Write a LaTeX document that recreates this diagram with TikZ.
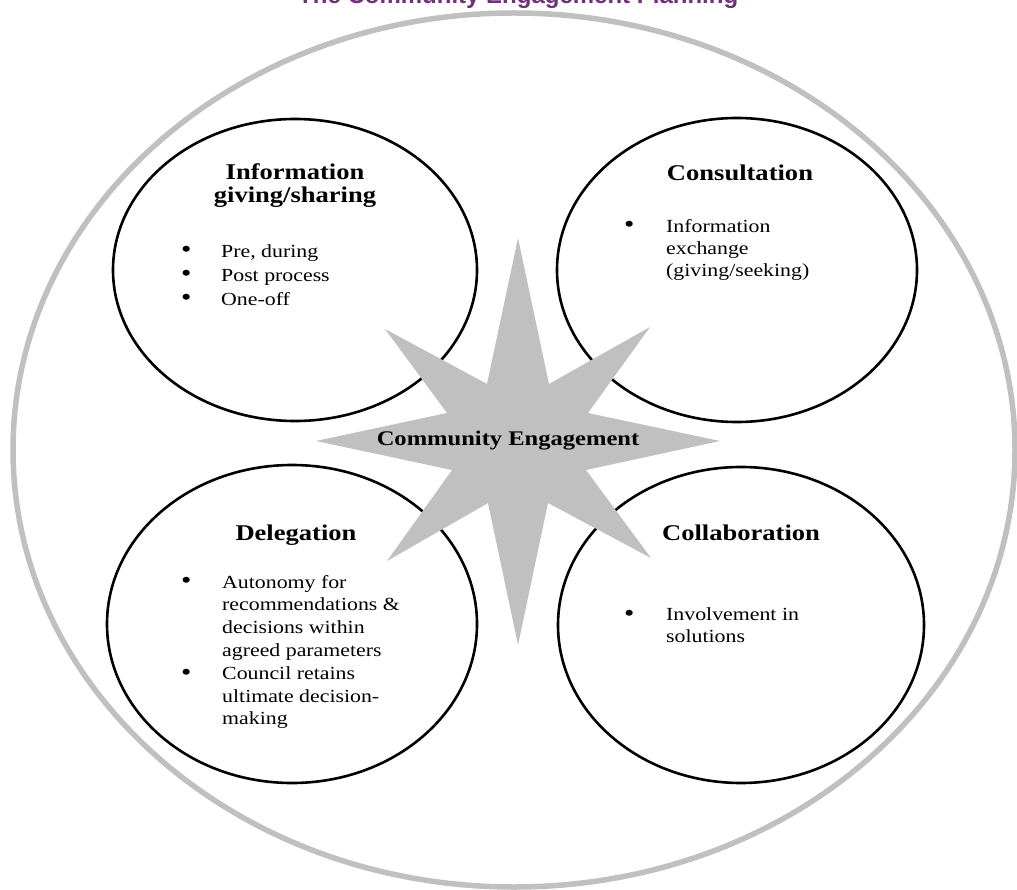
\documentclass[tikz,border=0pt]{standalone}
\usepackage{fontspec}
\setmainfont{Liberation Serif}[FakeStretch=1.18]
\newfontfamily\titlefont{Liberation Sans}
\usetikzlibrary{positioning}
\definecolor{ringgray}{RGB}{192,192,192}
\definecolor{titlepurple}{RGB}{112,48,122}
\newcommand{\bigdot}{\raisebox{-0.8pt}{\fontsize{25}{0}\selectfont\textbullet}}
\tikzset{
  outerring/.style={draw=ringgray, line width=5.5pt},
  stage/.style={draw=black, line width=2.6pt},
  starshape/.style={fill=ringgray},
  headtext/.style={inner sep=0pt, anchor=base, font=\fontsize{22.5}{23.5}\selectfont\bfseries},
  centertext/.style={inner sep=0pt, anchor=base, font=\fontsize{20.8}{24}\selectfont\bfseries},
  bulletblock/.style={inner sep=0pt, anchor=north west, align=left},
  titletext/.style={inner sep=0pt, anchor=base west, text=titlepurple,
    font=\titlefont\fontsize{24}{28}\selectfont\bfseries}
}
\begin{document}
\begin{tikzpicture}[x=1pt, y=-1pt]
\useasboundingbox (0,0) rectangle (1017,890);
\fill[white] (0,0) rectangle (1017,890);

% title, running off the top edge
\node[titletext] (title) at (298,4) {The Community Engagement Planning};

% outer ring
\draw[outerring] (514,450) ellipse [x radius=501, y radius=437];

% the four stages
\draw[stage] (295,270) ellipse [x radius=182, y radius=151];
\draw[stage] (737,270) ellipse [x radius=180, y radius=152];
\draw[stage] (292,624) ellipse [x radius=185, y radius=159];
\draw[stage] (741,625) ellipse [x radius=183, y radius=158];

% eight-pointed star in the middle
\fill[starshape] (518,238) -- (549,384) -- (650,327) -- (588,413) -- (720,441)
  -- (586,470) -- (651,558) -- (548,503) -- (518,645) -- (488,503) -- (387,561)
  -- (452,470) -- (316,441) -- (447,413) -- (385,329) -- (487,384) -- cycle;
\node[centertext] (core) at (508,445) {Community Engagement};

% Information giving/sharing
\node[headtext] (infoA) at (295,180) {Information};
\node[headtext] (infoB) at (295,203) {giving/sharing};
\node[bulletblock] (infolist) at (181,240.2) {%
  \fontsize{18.5}{24}\selectfont
  \begin{tabular}{@{}p{40pt}@{}l@{}}
  \bigdot & Pre, during\\
  \bigdot & Post process\\
  \bigdot & One-off
  \end{tabular}};

% Consultation
\node[headtext] (consult) at (740,181) {Consultation};
\node[bulletblock] (consultlist) at (624,216.6) {%
  \fontsize{18.5}{22}\selectfont
  \begin{tabular}{@{}p{42pt}@{}l@{}}
  \bigdot & Information\\
   & exchange\\
   & (giving/seeking)
  \end{tabular}};

% Delegation
\node[headtext] (deleg) at (296,540) {Delegation};
\node[bulletblock] (deleglist) at (181,572) {%
  \fontsize{18.5}{22.8}\selectfont
  \begin{tabular}{@{}p{41pt}@{}l@{}}
  \bigdot & Autonomy for\\
   & recommendations \&\\
   & decisions within\\
   & agreed parameters\\
  \bigdot & Council retains\\
   & ultimate decision-\\
   & making
  \end{tabular}};

% Collaboration
\node[headtext] (collab) at (741,540) {Collaboration};
\node[bulletblock] (collablist) at (624,604.6) {%
  \fontsize{18.5}{22}\selectfont
  \begin{tabular}{@{}p{42pt}@{}l@{}}
  \bigdot & Involvement in\\
   & solutions
  \end{tabular}};
\end{tikzpicture}
\end{document}
